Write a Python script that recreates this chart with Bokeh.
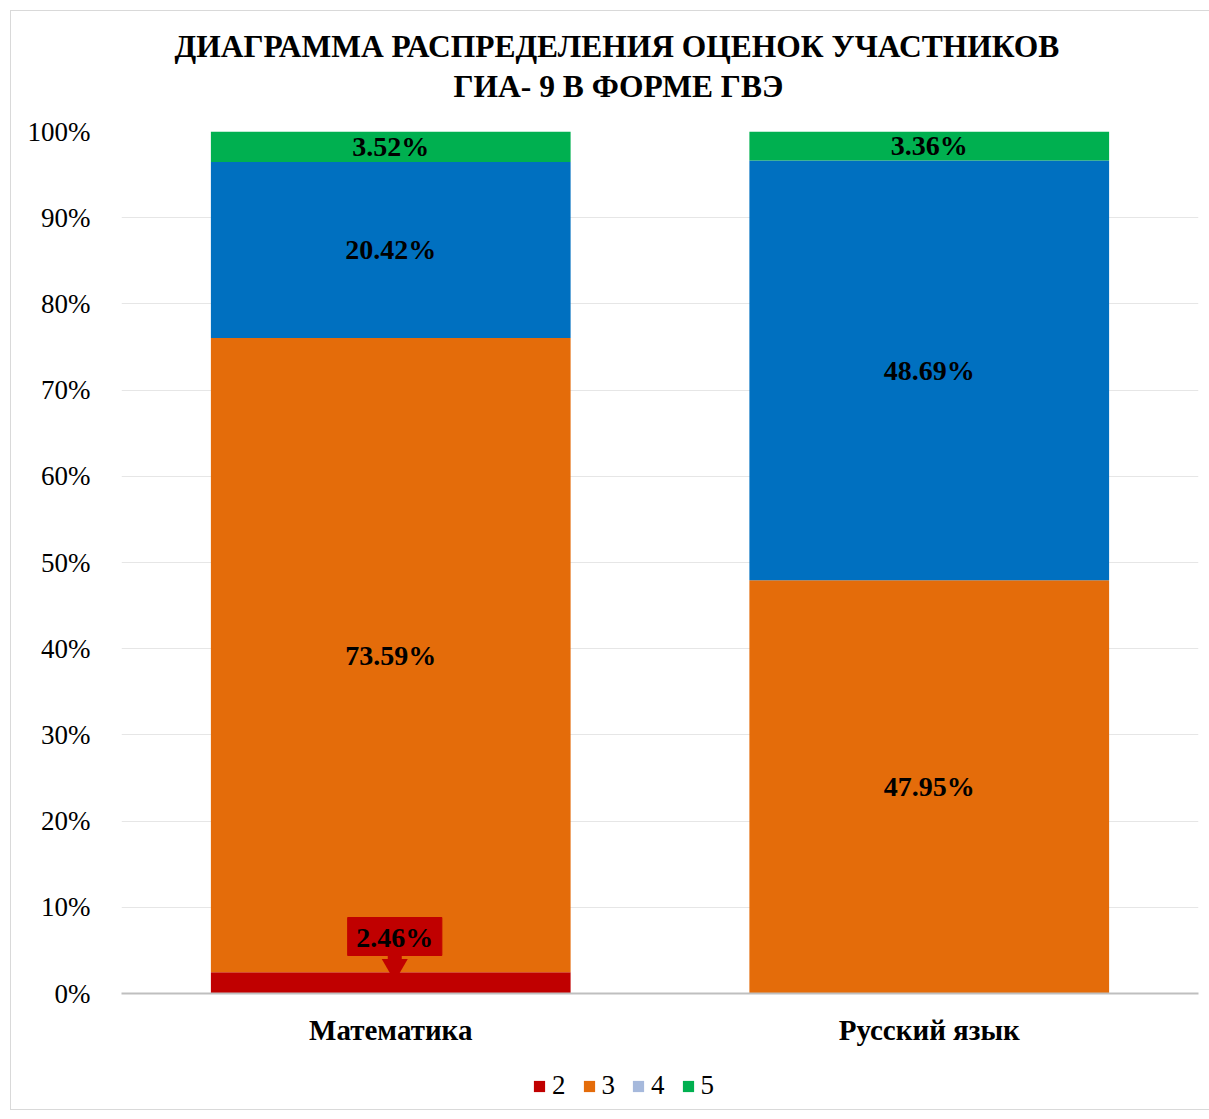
from bokeh.plotting import figure
from bokeh.layouts import column
from bokeh.models import (ColumnDataSource, LabelSet, Legend, LegendItem, Title,
                          FixedTicker, Label)
from bokeh.core.properties import value
from bokeh.embed import file_html
from bokeh.resources import INLINE

subjects = ["Математика", "Русский язык"]
grades = ["2", "3", "4", "5"]
grade2 = [2.46, 0.0]
grade3 = [73.59, 47.95]
grade4 = [20.42, 48.69]
grade5 = [3.52, 3.36]
bar_colors = ["#C00000", "#E46C0A", "#0070C0", "#00B050"]
legend_colors = ["#C00000", "#E46C0A", "#A6B9DC", "#00B050"]
y_ticks = [0, 10, 20, 30, 40, 50, 60, 70, 80, 90, 100]

FONT = "Liberation Serif"
W, H = 1199, 1050

p = figure(x_range=subjects, y_range=(0, 100), width=W, height=H,
           output_backend="svg", toolbar_location=None,
           min_border_left=110, min_border_right=12, min_border_top=120,
           min_border_bottom=68)
p.outline_line_color = None

data = dict(subject=subjects, g2=grade2, g3=grade3, g4=grade4, g5=grade5)
src = ColumnDataSource(data)
p.vbar_stack(["g2", "g3", "g4", "g5"], x="subject", width=0.668, source=src,
             color=bar_colors, line_color=None)

# data labels
lx, ly, lt = [], [], []
series = [grade2, grade3, grade4, grade5]
for i, s in enumerate(subjects):
    base = 0.0
    for k, vals in enumerate(series):
        v = vals[i]
        if v > 0 and k > 0:
            lx.append(s)
            ly.append(base + v / 2)
            lt.append(f"{v:.2f}%")
        base += v
lsrc = ColumnDataSource(dict(x=lx, y=ly, t=lt))
p.add_layout(LabelSet(x="x", y="y", text="t", source=lsrc,
                      text_font=value(FONT), text_font_size="28px",
                      text_font_style="bold", text_align="center",
                      text_baseline="middle", text_color="black"))

# callout for grade 2 in Математика
ppx = 537.5  # px per category
ppy = 8.62   # px per percent
cx = 0.5 + 4 / ppx
p.rect(x=[cx], y=[(993 - 936) / ppy], width=94 / ppx, height=38 / ppy,
       fill_color="#C00000", line_color="#C00000")
p.rect(x=[cx], y=[(993 - 958.5) / ppy], width=14 / ppx, height=8 / ppy,
       fill_color="#C00000", line_color=None)
p.scatter(x=[cx], y=[(993 - 966) / ppy], marker="inverted_triangle", size=26,
          fill_color="#C00000", line_color=None)
p.add_layout(Label(x=cx, y=(993 - 937) / ppy, text=f"{grade2[0]:.2f}%",
                   text_font=FONT, text_font_size="28px",
                   text_font_style="bold", text_align="center",
                   text_baseline="middle", text_color="black"))

# axes
p.yaxis.ticker = FixedTicker(ticks=y_ticks)
p.yaxis.major_label_overrides = {t: f"{t}%" for t in y_ticks}
p.yaxis.axis_line_color = None
p.yaxis.major_tick_line_color = None
p.yaxis.minor_tick_line_color = None
p.yaxis.major_label_text_font = FONT
p.yaxis.major_label_text_font_size = "27px"
p.yaxis.major_label_text_color = "black"
p.yaxis.major_label_standoff = 25

p.xaxis.axis_line_color = "#BFBFBF"
p.xaxis.axis_line_width = 2
p.xaxis.major_tick_line_color = None
p.xaxis.minor_tick_line_color = None
p.xaxis.major_label_text_font = FONT
p.xaxis.major_label_text_font_size = "29px"
p.xaxis.major_label_text_font_style = "bold"
p.xaxis.major_label_text_color = "black"
p.xaxis.major_label_standoff = 14

p.xgrid.grid_line_color = None
p.ygrid.grid_line_color = "#E6E6E6"
p.ygrid.grid_line_width = 1

# titles: p.title is outermost; p.above list runs from the frame outward
p.title.text = "ДИАГРАММА РАСПРЕДЕЛЕНИЯ ОЦЕНОК УЧАСТНИКОВ"
p.title.align = "left"
p.title.offset = 53
p.title.text_font = FONT
p.title.text_font_size = "31.5px"
p.title.text_font_style = "bold"
p.title.text_color = "black"
p.title.standoff = 0
p.add_layout(Title(text=" ", align="center", text_font=FONT,
                   text_font_size="20px", standoff=1), "above")
p.add_layout(Title(text="ГИА- 9 В ФОРМЕ ГВЭ", align="left", offset=332,
                   text_font=FONT, text_font_size="31.5px",
                   text_font_style="bold", text_color="black", standoff=6),
             "above")

# legend in a small strip figure below the chart (its frame aligns with the chart's)
lf = figure(width=W, height=48, x_range=(0, 1), y_range=(0, 1),
            output_backend="svg", toolbar_location=None,
            min_border_left=0, min_border_right=0, min_border_top=0,
            min_border_bottom=0)
lf.axis.visible = False
lf.grid.visible = False
lf.outline_line_color = None
items = []
for g, c in zip(grades, legend_colors):
    r = lf.vbar(x=[0.5], top=[-5], bottom=[-6], width=0.1,
                fill_color=c, line_color=None)
    items.append(LegendItem(label=g, renderers=[r]))
legend = Legend(items=items, orientation="horizontal", location=(411, 8),
                label_text_font=FONT, label_text_font_size="27px",
                label_text_color="black", glyph_width=14, glyph_height=14,
                label_width=13, spacing=16, label_standoff=6,
                border_line_color=None, background_fill_alpha=0,
                margin=0, padding=0)
lf.add_layout(legend, "center")

layout = column(p, lf, spacing=0)
layout.margin = (10, 0, 0, 10)
layout.styles = {"border": "1px solid #D9D9D9"}

open("out.html", "w").write(file_html(layout, INLINE))
